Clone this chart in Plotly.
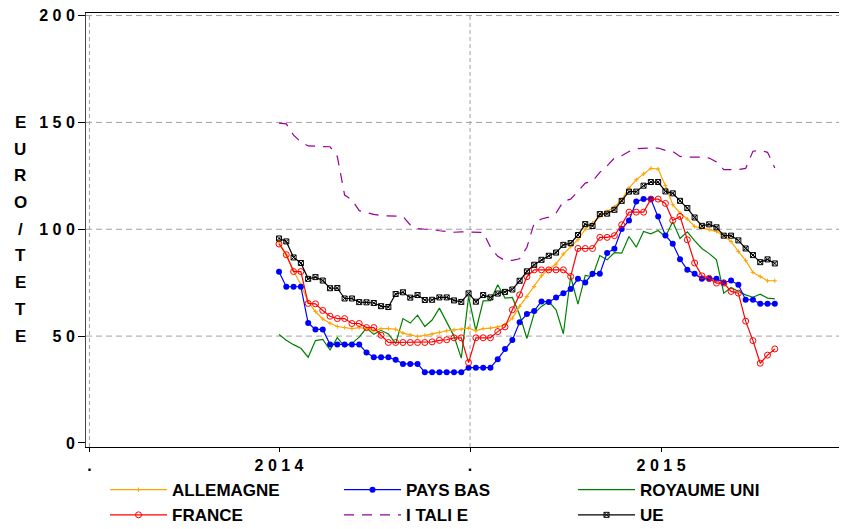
import plotly.graph_objects as go

# ---- data (weekly index, week 0 = first observation in mid-2014) ----
weeks = list(range(69))

allemagne = [94, 88, 80.5, 74, 66, 61.5, 58, 56, 54.5, 54, 53.5, 54, 53.5, 52.5, 53.5, 53.5, 53.2,
             51.4, 50.6, 49.8, 50.3, 50.9, 51.7, 52.5, 52.9, 53.2, 53.7, 52.5, 53.5, 53.7, 54.3, 55.3,
             58.4, 63.9, 68.5, 73.2, 78.2, 81.3, 83.7, 88.4, 91.9, 95.1, 100.1, 102.9, 106.0, 108.3,
             110.4, 113.8, 119.3, 123.2, 125.9, 128.5, 128.2, 120.4, 111.5, 107.6, 104.8, 101.3, 100.5,
             99.8, 99.0, 97.0, 94.3, 89.6, 85.4, 79.8, 77.9, 75.9, 75.9]

pays_bas = [80.1, 73.1, 73.1, 73.1, 56.1, 53.1, 53.1, 46.1, 46.1, 46.1, 46.1, 46.1, 42.3, 40.1, 40.1,
            40.1, 38.9, 37.0, 37.0, 37.0, 33.1, 33.1, 33.1, 33.1, 33.1, 33.1, 35.2, 35.2, 35.2, 35.2,
            39.2, 44.0, 48.2, 56.5, 60.3, 61.8, 66.2, 66.0, 68.1, 70.1, 72.0, 76.8, 75.1, 79.2, 79.2,
            88.9, 90.9, 100.1, 104.1, 113.0, 114.1, 114.1, 106.0, 97.1, 93.2, 86.0, 81.0, 79.2, 76.8,
            76.8, 76.8, 75.1, 76.0, 74.0, 67.0, 67.0, 65.1, 65.1, 65.1]

royaume_uni = [50.7, 48.1, 46.0, 44.3, 40.1, 47.9, 48.5, 43.5, 49.3, 45.0, 46.6, 49.5, 53.8, 50.8,
               52.7, 51.0, 46.5, 58.2, 56.1, 59.8, 54.5, 57.5, 63.1, 56.5, 50.0, 39.7, 68.5, 52.5,
               66.5, 66.6, 74.0, 67.8, 68.1, 60.0, 48.9, 60.7, 63.9, 66.2, 62.3, 51.1, 77.9, 65.0,
               78.4, 77.9, 87.7, 85.7, 89.1, 88.8, 96.6, 91.6, 99.0, 97.9, 99.4, 96.5, 103.5, 95.7,
               98.8, 94.7, 91.0, 88.6, 85.7, 70.1, 72.8, 70.9, 69.3, 68.2, 69.6, 67.8, 67.4]

france = [93.1, 88.1, 80.2, 80.2, 65.3, 65.1, 62.0, 59.3, 58.2, 58.2, 55.9, 55.9, 54.0, 54.0, 50.4,
          47.0, 47.0, 47.0, 47.0, 47.0, 47.0, 47.3, 48.0, 48.3, 49.2, 49.2, 37.6, 49.2, 49.2, 49.2,
          52.1, 54.3, 62.3, 69.3, 77.8, 81.0, 81.0, 81.0, 81.0, 81.0, 77.9, 91.0, 91.0, 91.0, 96.2,
          96.2, 97.0, 102.1, 108.0, 108.0, 108.0, 114.1, 114.1, 112.1, 104.1, 106.0, 95.1, 84.2,
          78.2, 77.0, 74.8, 74.8, 70.9, 70.1, 57.0, 47.9, 37.3, 41.1, 44.0]

italie = [149.7, 149.3, 144, 140.8, 139, 138.7, 138.7, 138.6, 134, 116, 113.8, 108.7, 107.7, 107,
          106.4, 106.2, 106.2, 106.0, 102, 100.3, 100, 100, 99.3, 99.0, 98.6, 98.8, 98.8, 98.8, 98.5,
          91.6, 87.3, 85.4, 85.4, 86.2, 91.6, 102.9, 104.8, 105.7, 107.6, 113.0, 114.1, 117.7, 121.6,
          122.4, 126.6, 129.7, 133.3, 134.4, 136.4, 137.7, 138.0, 138.0, 138.0, 136.9, 136.4, 134.1,
          133.8, 133.8, 133.8, 133.3, 131.5, 127.9, 127.9, 127.9, 128.5, 136.5, 137.0, 136.0, 128.7]

ue = [95.7, 94.3, 86.8, 84.2, 76.8, 77.6, 76.0, 72.4, 72.5, 67.6, 67.6, 65.9, 65.8, 65.5, 64.0, 63.6,
      69.7, 70.5, 68.0, 69.2, 66.9, 67.0, 68.1, 68.1, 66.7, 66.0, 70.0, 66.1, 69.2, 68.1, 69.9, 70.7,
      71.8, 75.9, 80.3, 83.4, 85.7, 87.6, 89.1, 92.7, 93.5, 97.3, 102.4, 101.5, 107.1, 107.3, 109.1,
      113.3, 117.6, 117.6, 120.4, 122.1, 122.1, 117.7, 116.8, 113.3, 109.9, 105.5, 101.6, 102.3,
      100.9, 97.0, 97.0, 94.8, 91.0, 87.9, 84.6, 85.9, 84.0]

x_tick_pos = [-26, 0, 26.2, 52.4]
x_tick_text = [".", "2 0 1 4", ".", "2 0 1 5"]
y_tick_vals = [0, 50, 100, 150, 200]
y_tick_text = ["0", "5 0", "1 0 0", "1 5 0", "2 0 0"]
y_grid_vals = [50, 100, 150, 200]
x_grid_vals = [-26, 26.2]
y_title_letters = list("EURO/TETE")

FONT = "Liberation Sans, Arial, sans-serif"

fig = go.Figure()

fig.add_trace(go.Scatter(x=weeks, y=italie, name="I TALI E", mode="lines", legendrank=5,
                         line=dict(color="#990099", width=1.2, dash="10px,8px")))
fig.add_trace(go.Scatter(x=weeks, y=royaume_uni, name="ROYAUME UNI", mode="lines", legendrank=3,
                         line=dict(color="#008000", width=1.2)))
fig.add_trace(go.Scatter(x=weeks, y=allemagne, name="ALLEMAGNE", mode="lines+markers", legendrank=1,
                         line=dict(color="#FFA500", width=1.2),
                         marker=dict(symbol="cross-thin", size=3, color="#FFA500",
                                     line=dict(color="#FFA500", width=1))))
fig.add_trace(go.Scatter(x=weeks, y=pays_bas, name="PAYS BAS", mode="lines+markers", legendrank=2,
                         line=dict(color="#0000FF", width=1.2),
                         marker=dict(symbol="circle", size=6, color="#0000FF")))
fig.add_trace(go.Scatter(x=weeks, y=france, name="FRANCE", mode="lines+markers", legendrank=4,
                         line=dict(color="#FF0000", width=1.2),
                         marker=dict(symbol="circle-open", size=6, color="#FF0000",
                                     line=dict(color="#FF0000", width=1))))
fig.add_trace(go.Scatter(x=weeks, y=ue, name="UE", mode="lines+markers", legendrank=6,
                         line=dict(color="#000000", width=1.2),
                         marker=dict(symbol="square-x-open", size=5, color="#000000",
                                     line=dict(color="#000000", width=1))))

shapes = []
for v in y_grid_vals:
    shapes.append(dict(type="line", xref="paper", x0=0, x1=1, yref="y", y0=v, y1=v,
                       line=dict(color="#A0A0A0", width=1, dash="6px,4px"), layer="below"))
for v in x_grid_vals:
    shapes.append(dict(type="line", xref="x", x0=v, x1=v, yref="paper", y0=0, y1=1,
                       line=dict(color="#A0A0A0", width=1, dash="4px,3px"), layer="below"))

annotations = []
for k, ch in enumerate(y_title_letters):
    annotations.append(dict(text=ch, xref="paper", x=-66 / 761, yref="y", y=150 - 12.5 * k,
                            xanchor="center", yanchor="middle", showarrow=False,
                            font=dict(family=FONT, size=17, color="#000000", weight="bold")))

# the page adds an 8px body margin, so the figure is 8px smaller and margins are shifted
fig.update_layout(
    width=839, height=521,
    margin=dict(l=78, r=0, t=5, b=82, pad=0, autoexpand=False),
    paper_bgcolor="white", plot_bgcolor="white",
    font=dict(family=FONT, color="#000000"),
    shapes=shapes, annotations=annotations,
    showlegend=True,
    legend=dict(orientation="h", x=0.025, xanchor="left", y=-0.058, yanchor="top",
                entrywidth=162, entrywidthmode="pixels", itemwidth=57,
                font=dict(family=FONT, size=17, color="#000000", weight="bold"),
                traceorder="normal", bgcolor="rgba(0,0,0,0)"),
    xaxis=dict(range=[-26.47, 77.9], tickmode="array", tickvals=x_tick_pos, ticktext=x_tick_text,
               showgrid=False, zeroline=False, showline=True, linecolor="#000000", linewidth=1,
               mirror=True, ticks="outside", ticklen=4, tickcolor="#000000", automargin=False,
               ticklabeloverflow="allow",
               tickfont=dict(family=FONT, size=16, color="#000000", weight="bold")),
    yaxis=dict(range=[-1.9, 201.2], tickmode="array", tickvals=y_tick_vals, ticktext=y_tick_text,
               showgrid=False, zeroline=False, showline=True, linecolor="#444444", linewidth=1,
               ticks="outside", ticklen=7, tickcolor="#000000", automargin=False,
               ticklabeloverflow="allow",
               tickfont=dict(family=FONT, size=16, color="#000000", weight="bold")),
)

fig.write_html("out.html")
